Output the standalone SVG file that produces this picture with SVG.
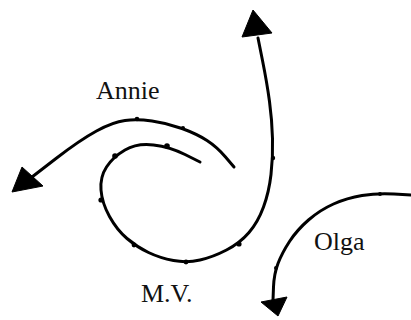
<svg xmlns="http://www.w3.org/2000/svg" width="411" height="320" viewBox="0 0 411 320">
<style>
.tr{fill:none;stroke:#000;stroke-width:3;stroke-linejoin:round;stroke-linecap:round}
.hd{fill:#000;stroke:#000;stroke-width:1;stroke-linejoin:round}
.dot{fill:#000}
.lb{font-family:"Liberation Serif","Times New Roman",serif;font-size:26px;fill:#111}
</style>
<rect width="411" height="320" fill="#fff"/>
<g id="annie">
<path class="tr" d="M234,167 L225.5,157 Q217,147 207,140.5 Q197,134 182,128.5 Q167,123 152,121 Q137,119 125,120.5 Q113,122 96.5,131 Q80,140 56,158.5 L32,177"/>
<polygon class="hd" points="12,192 22,167 43,186"/>
<circle class="dot" cx="137" cy="119" r="2.3"/>
<circle class="dot" cx="183" cy="128" r="2"/>
<text class="lb" x="96" y="99">Annie</text>
</g>
<g id="mv">
<path class="tr" d="M200,162 L185,154.5 Q170,147 153.5,145 Q137,143 125,150 Q113,157 106.5,167 Q100,177 101,190 Q102,203 109.5,216.5 Q117,230 127,238.5 Q137,247 148.5,252.5 Q160,258 173.5,260.5 Q187,263 200,260 Q213,257 226.5,250 Q240,243 249,232.5 Q258,222 263.5,207 Q269,192 271,174.5 Q273,157 272.5,138.5 Q272,120 269.5,101.5 Q267,83 262.5,60.5 L258,38"/>
<polygon class="hd" points="253,10 242,37 272,33"/>
<circle class="dot" cx="167" cy="146" r="2.8"/>
<circle class="dot" cx="115" cy="156" r="2.8"/>
<circle class="dot" cx="101" cy="200" r="2.6"/>
<circle class="dot" cx="134" cy="245" r="2.4"/>
<circle class="dot" cx="186" cy="262" r="2.4"/>
<circle class="dot" cx="239" cy="244" r="2.6"/>
<circle class="dot" cx="273" cy="158" r="2.2"/>
<text class="lb" x="141" y="302">M.V.</text>
</g>
<g id="olga">
<path class="tr" d="M411,195 L394,194 Q377,193 362,195.5 Q347,198 333.5,204 Q320,210 308.5,220 Q297,230 289.5,241.5 Q282,253 278,263.5 Q274,274 273.5,287 L273,300"/>
<polygon class="hd" points="278,316 261,302 287,297"/>
<circle class="dot" cx="380" cy="194" r="2"/>
<circle class="dot" cx="276" cy="268" r="2"/>
<text class="lb" x="314" y="250">Olga</text>
</g>
<g id="connectors"/>
</svg>
